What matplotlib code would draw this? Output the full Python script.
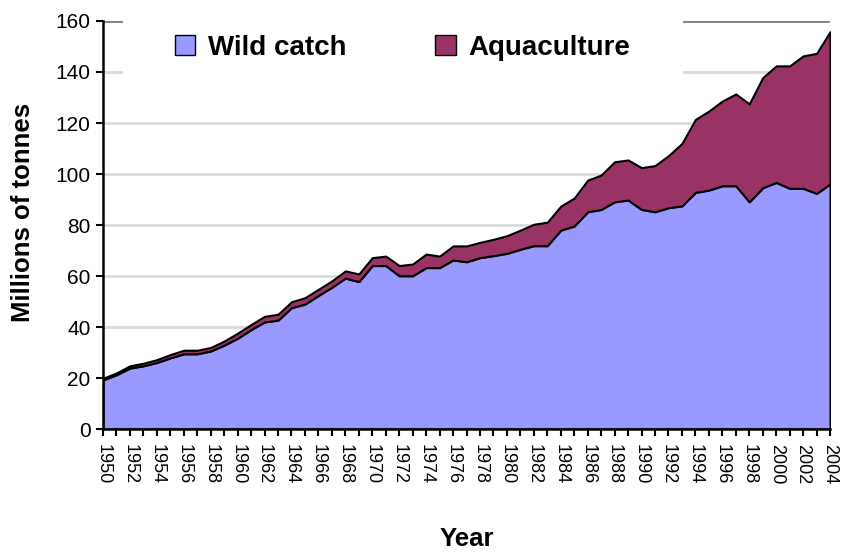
import numpy as np
import matplotlib
matplotlib.use("Agg")
import matplotlib.pyplot as plt
from matplotlib.patches import Patch, Rectangle

years = np.arange(1950, 2005)

# millions of tonnes
wild_catch = [19.3, 21.3, 23.9, 24.8, 26.1, 27.9, 29.5, 29.5, 30.6, 32.9,
              35.6, 39.0, 42.0, 42.7, 47.6, 49.0, 52.4, 55.6, 59.2, 57.8,
              64.1, 64.1, 60.1, 60.1, 63.3, 63.3, 66.3, 65.6, 67.2, 68.0,
              68.9, 70.5, 71.9, 71.9, 78.0, 79.6, 85.2, 86.1, 89.1, 89.8,
              86.1, 85.2, 86.8, 87.5, 92.8, 93.7, 95.4, 95.4, 89.1, 94.6,
              96.7, 94.4, 94.4, 92.4, 96.1]
aquaculture = [0.6, 0.7, 0.9, 1.0, 1.1, 1.3, 1.4, 1.4, 1.4, 1.6,
               2.0, 2.0, 2.2, 2.3, 2.3, 2.5, 2.4, 2.5, 2.8, 3.0,
               3.1, 3.7, 4.0, 4.6, 5.3, 4.5, 5.5, 6.2, 6.0, 6.4,
               6.9, 7.5, 8.4, 9.2, 9.4, 11.0, 12.4, 13.5, 15.7, 15.7,
               16.4, 18.1, 20.4, 24.5, 28.6, 31.0, 33.2, 36.0, 38.4, 43.2,
               45.7, 48.0, 51.9, 54.9, 59.7]

series_names = ['Wild catch', 'Aquaculture']
series_colors = ['#9999FF', '#993366']

plt.rcParams['font.family'] = ['Liberation Sans', 'DejaVu Sans']

fig = plt.figure(figsize=(8.43, 5.54), dpi=100)
ax = fig.add_axes([0.1222, 0.2256, 0.8624, 0.7365])

ax.stackplot(years, wild_catch, aquaculture, colors=series_colors,
             edgecolor='black', linewidth=1.5, zorder=2)

ax.set_xlim(1950, 2004)
ax.set_ylim(0, 160)

ax.set_yticks(np.arange(0, 161, 20))
ax.set_xticks(years, minor=True)
ax.set_xticks(years[::2])
ax.set_xticklabels([str(y) for y in years[::2]], rotation=270)

for v in range(20, 160, 20):
    ax.axhline(v, color='#D9D9D9', linewidth=2, zorder=0.5)
ax.axhline(160, color='#808080', linewidth=2, zorder=0.5)

# white box behind the legend hides the gridlines there
ax.add_patch(Rectangle((0.0275, 0.806), 0.77, 0.22, transform=ax.transAxes,
                       facecolor='white', edgecolor='none', zorder=1,
                       clip_on=False))

ax.tick_params(axis='both', which='both', direction='out', width=1.5,
               length=5, color='black')
ax.tick_params(axis='x', which='major', labelsize=13, pad=6)
ax.tick_params(axis='y', labelsize=15, pad=4)

for side in ['top', 'right']:
    ax.spines[side].set_visible(False)
for side in ['left', 'bottom']:
    ax.spines[side].set_linewidth(1.8)
    ax.spines[side].set_zorder(3)

ax.set_ylabel('Millions of tonnes', fontsize=18.5, fontweight='bold')
ax.set_xlabel('Year', fontsize=18.5, fontweight='bold')
ax.yaxis.set_label_coords(-0.093, 0.53)
ax.xaxis.set_label_coords(0.5, -0.24)

handles = [Patch(facecolor=c, edgecolor='black', linewidth=1) for c in series_colors]
leg = ax.legend(handles, series_names, loc='center', bbox_to_anchor=(0.412, 0.935),
                ncol=2, frameon=False, columnspacing=3.2,
                handlelength=0.75, handleheight=0.75, handletextpad=0.45,
                prop={'weight': 'bold', 'size': 20})

plt.savefig('out.png', dpi=100)
